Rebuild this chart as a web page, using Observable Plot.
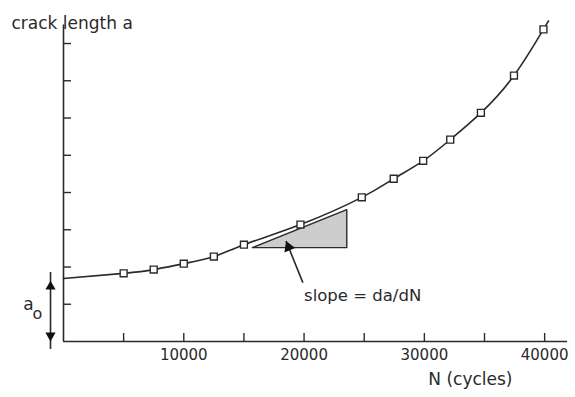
<!DOCTYPE html>
<html><head><meta charset="utf-8">
<script src="https://cdn.jsdelivr.net/npm/d3@7"></script>
<script src="https://cdn.jsdelivr.net/npm/@observablehq/plot@0.6"></script>
<style>html,body{margin:0;padding:0;background:#fff} svg{display:block}</style>
</head><body><div id="chart"></div>
<script>
// measured data points (cycles N, crack length a in tick units)
const cycles      = [5000, 7500, 10000, 12500, 15000, 19700, 24800, 27450, 29900, 32150, 34700, 37450, 39900];
const crackLength = [1.83, 1.93, 2.09, 2.28, 2.60, 3.14, 3.87, 4.37, 4.85, 5.42, 6.14, 7.14, 8.38];
// smooth curve: starts at a0 for N=0 and runs a little past the last point
const a0 = 1.69;
const curveN = [0, ...cycles, 40300];
const curveA = [a0, ...crackLength, 8.59];
// axes
const xTicks = [5000, 10000, 15000, 20000, 25000, 30000, 35000, 40000];
const xTickLabels = [10000, 20000, 30000, 40000];
const yTicks = [1, 2, 3, 4, 5, 6, 7, 8];
const xMax = 41900, yMax = 8.5;
// slope triangle
const triN = [15700, 23550];
const triA = [2.52, 3.54];
// slope arrow (tail -> tip)
const arrowN = [19900, 18500];
const arrowA = [1.58, 2.70];
const slopeLabel = "slope = da/dN";
const slopeLabelPos = [20000, 1.22];
// a0 arrow
const a0ArrowN = -1080;
const xLabel = "N (cycles)";
const yLabel = "crack length a";

const W = 575, H = 397, mL = 63, mR = 8, mT = 24.4, mB = 56;
const kx = xMax / (W - mL - mR);   // data per px
const ky = yMax / (H - mT - mB);

const ink = "#2a2a2a";
const pts = cycles.map((n, i) => ({N: n, a: crackLength[i]}));
const curve = curveN.map((n, i) => ({N: n, a: curveA[i]}));
const triArea = [{N: triN[0], lo: triA[0], hi: triA[0]}, {N: triN[1], lo: triA[0], hi: triA[1]}];
const triOutline = [{N: triN[0], a: triA[0]}, {N: triN[1], a: triA[1]}, {N: triN[1], a: triA[0]}, {N: triN[0], a: triA[0]}];

const chart = Plot.plot({
  width: W, height: H,
  marginLeft: mL, marginRight: mR, marginTop: mT, marginBottom: mB,
  x: {domain: [0, xMax], axis: null},
  y: {domain: [0, yMax], axis: null},
  style: {fontFamily: "'DejaVu Sans', sans-serif", fontSize: "15px", color: ink, background: "#fff"},
  marks: [
    Plot.areaY(triArea, {x: "N", y1: "lo", y2: "hi", fill: "#cdcdcd"}),
    Plot.line(triOutline, {x: "N", y: "a", stroke: ink, strokeWidth: 1.4}),
    Plot.ruleY([0], {x1: 0, x2: xMax, stroke: ink, strokeWidth: 1.6}),
    Plot.ruleX([0], {y1: 0, y2: yMax, stroke: ink, strokeWidth: 1.6}),
    Plot.ruleX(xTicks, {x: d => d, y1: 0, y2: 8 * ky, stroke: ink, strokeWidth: 1.4}),
    Plot.ruleY(yTicks, {y: d => d, x1: 0, x2: 8 * kx, stroke: ink, strokeWidth: 1.4}),
    Plot.axisX(xTickLabels, {tickSize: 0, tickPadding: 8, tickFormat: d => String(d), label: null, fontSize: 15, fill: ink}),
    Plot.line(curve, {x: "N", y: "a", curve: "natural", stroke: ink, strokeWidth: 1.6}),
    Plot.dot(pts, {x: "N", y: "a", symbol: "square", r: 3.9, stroke: ink, strokeWidth: 1.4, fill: "#fff"}),
    // slope arrow
    Plot.link([0], {x1: arrowN[0], y1: arrowA[0], x2: arrowN[1], y2: arrowA[1], stroke: ink, strokeWidth: 1.6}),
    Plot.dot([0], {x: arrowN[1], y: arrowA[1], symbol: "triangle", r: 4.3, rotate: -22, dx: 2.5, dy: 6.2, fill: "#111", stroke: "none"}),
    Plot.text([slopeLabel], {x: slopeLabelPos[0], y: slopeLabelPos[1], text: d => d, textAnchor: "start", fontSize: 16.5, fill: ink}),
    // a0 double arrow
    Plot.ruleX([a0ArrowN], {x: d => d, y1: 0, y2: a0, stroke: ink, strokeWidth: 1.6, insetTop: 8, insetBottom: 6}),
    Plot.dot([a0], {x: a0ArrowN, y: d => d, symbol: "triangle", r: 3.8, dy: 8, fill: "#111", stroke: "none"}),
    Plot.dot([0], {x: a0ArrowN, y: d => d, symbol: "triangle", r: 3.8, rotate: 180, dy: -6, fill: "#111", stroke: "none"}),
    Plot.text(["a"], {x: a0ArrowN, y: a0 / 2, text: d => d, dx: -22, dy: -5, fontSize: 17, fill: ink}),
    Plot.text(["o"], {x: a0ArrowN, y: a0 / 2, text: d => d, dx: -13, dy: 4, fontSize: 16, fill: ink}),
    // axis titles
    Plot.text([yLabel], {frameAnchor: "top-left", text: d => d, textAnchor: "start", dx: -52, dy: -8, fontSize: 17, fill: ink}),
    Plot.text([xLabel], {frameAnchor: "bottom-right", text: d => d, textAnchor: "end", dx: -55, dy: 43, fontSize: 17, fill: ink})
  ]
});
document.getElementById("chart").appendChild(chart);
</script>
</body></html>
